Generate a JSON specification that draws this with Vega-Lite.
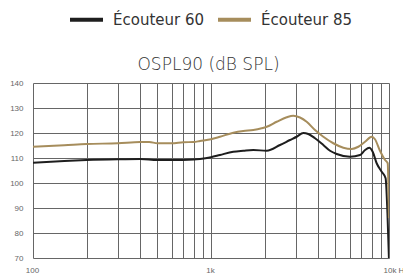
{
  "$schema": "https://vega.github.io/schema/vega-lite/v6.json",
  "width": 356,
  "height": 175,
  "autosize": "none",
  "padding": {"left": 33, "top": 83, "right": 14, "bottom": 20},
  "background": "white",
  "config": {
    "view": {"stroke": null},
    "axis": {"labelFont": "Liberation Sans", "labelFontSize": 8, "labelColor": "#666666"}
  },
  "data": {
    "values": [
      {"series": "Écouteur 60", "freq": 100, "db": 108.1},
      {"series": "Écouteur 60", "freq": 150, "db": 108.8},
      {"series": "Écouteur 60", "freq": 200, "db": 109.2},
      {"series": "Écouteur 60", "freq": 300, "db": 109.5},
      {"series": "Écouteur 60", "freq": 400, "db": 109.6},
      {"series": "Écouteur 60", "freq": 500, "db": 109.2},
      {"series": "Écouteur 60", "freq": 600, "db": 109.2},
      {"series": "Écouteur 60", "freq": 800, "db": 109.4},
      {"series": "Écouteur 60", "freq": 867, "db": 109.6},
      {"series": "Écouteur 60", "freq": 1000, "db": 110.3},
      {"series": "Écouteur 60", "freq": 1123, "db": 111.2},
      {"series": "Écouteur 60", "freq": 1334, "db": 112.5},
      {"series": "Écouteur 60", "freq": 1519, "db": 112.9},
      {"series": "Écouteur 60", "freq": 1729, "db": 113.2},
      {"series": "Écouteur 60", "freq": 2056, "db": 112.9},
      {"series": "Écouteur 60", "freq": 2442, "db": 115.2},
      {"series": "Écouteur 60", "freq": 2779, "db": 117.2},
      {"series": "Écouteur 60", "freq": 3029, "db": 118.5},
      {"series": "Écouteur 60", "freq": 3302, "db": 120.0},
      {"series": "Écouteur 60", "freq": 3521, "db": 119.6},
      {"series": "Écouteur 60", "freq": 3840, "db": 117.9},
      {"series": "Écouteur 60", "freq": 4276, "db": 115.2},
      {"series": "Écouteur 60", "freq": 4662, "db": 112.9},
      {"series": "Écouteur 60", "freq": 5082, "db": 111.6},
      {"series": "Écouteur 60", "freq": 6039, "db": 110.5},
      {"series": "Écouteur 60", "freq": 6877, "db": 111.2},
      {"series": "Écouteur 60", "freq": 7335, "db": 113.2},
      {"series": "Écouteur 60", "freq": 7749, "db": 114.1},
      {"series": "Écouteur 60", "freq": 8097, "db": 112.5},
      {"series": "Écouteur 60", "freq": 8525, "db": 107.9},
      {"series": "Écouteur 60", "freq": 9099, "db": 104.5},
      {"series": "Écouteur 60", "freq": 9570, "db": 101.9},
      {"series": "Écouteur 60", "freq": 9800, "db": 88},
      {"series": "Écouteur 60", "freq": 9990, "db": 70},
      {"series": "Écouteur 85", "freq": 100, "db": 114.5},
      {"series": "Écouteur 85", "freq": 150, "db": 115.1},
      {"series": "Écouteur 85", "freq": 200, "db": 115.6},
      {"series": "Écouteur 85", "freq": 300, "db": 115.9},
      {"series": "Écouteur 85", "freq": 400, "db": 116.4},
      {"series": "Écouteur 85", "freq": 450, "db": 116.4},
      {"series": "Écouteur 85", "freq": 500, "db": 115.9},
      {"series": "Écouteur 85", "freq": 600, "db": 115.9},
      {"series": "Écouteur 85", "freq": 700, "db": 116.3},
      {"series": "Écouteur 85", "freq": 800, "db": 116.4},
      {"series": "Écouteur 85", "freq": 867, "db": 116.8},
      {"series": "Écouteur 85", "freq": 1000, "db": 117.5},
      {"series": "Écouteur 85", "freq": 1123, "db": 118.5},
      {"series": "Écouteur 85", "freq": 1334, "db": 120.1},
      {"series": "Écouteur 85", "freq": 1519, "db": 120.8},
      {"series": "Écouteur 85", "freq": 1729, "db": 121.2},
      {"series": "Écouteur 85", "freq": 1926, "db": 121.9},
      {"series": "Écouteur 85", "freq": 2056, "db": 122.5},
      {"series": "Écouteur 85", "freq": 2339, "db": 124.5},
      {"series": "Écouteur 85", "freq": 2663, "db": 126.3},
      {"series": "Écouteur 85", "freq": 2900, "db": 126.9},
      {"series": "Écouteur 85", "freq": 3162, "db": 126.2},
      {"series": "Écouteur 85", "freq": 3447, "db": 124.5},
      {"series": "Écouteur 85", "freq": 3840, "db": 121.2},
      {"series": "Écouteur 85", "freq": 4276, "db": 118.5},
      {"series": "Écouteur 85", "freq": 4868, "db": 115.9},
      {"series": "Écouteur 85", "freq": 5538, "db": 114.1},
      {"series": "Écouteur 85", "freq": 6170, "db": 113.6},
      {"series": "Écouteur 85", "freq": 6725, "db": 114.5},
      {"series": "Écouteur 85", "freq": 7335, "db": 116.5},
      {"series": "Écouteur 85", "freq": 7993, "db": 118.5},
      {"series": "Écouteur 85", "freq": 8341, "db": 117.5},
      {"series": "Écouteur 85", "freq": 8897, "db": 112.9},
      {"series": "Écouteur 85", "freq": 9502, "db": 109.2},
      {"series": "Écouteur 85", "freq": 9833, "db": 107.9},
      {"series": "Écouteur 85", "freq": 9990, "db": 86}
    ]
  },
  "mark": {"type": "line", "strokeWidth": 2, "clip": true, "interpolate": "monotone"},
  "encoding": {
    "x": {
      "field": "freq",
      "type": "quantitative",
      "scale": {"type": "log", "domain": [100, 10000], "nice": false},
      "axis": {
        "title": "OSPL90 (dB SPL)",
        "titleFont": "DejaVu Sans",
        "titleFontSize": 17,
        "titleFontWeight": 300,
        "titleColor": "#333333",
        "titleX": 175,
        "titleY": -189,
        "titleAlign": "center",
        "titleBaseline": "alphabetic",
        "titleAngle": 0,
        "values": [100, 200, 300, 400, 500, 600, 700, 800, 900, 1000, 2000, 3000, 4000, 5000, 6000, 7000, 8000, 9000, 10000],
        "labelExpr": "datum.value == 100 ? '100' : datum.value == 1000 ? '1k' : datum.value == 10000 ? '10k Hz' : ''",
        "grid": true,
        "gridColor": "#666666",
        "gridOpacity": 1,
        "gridWidth": 1,
        "domain": false,
        "ticks": false,
        "labelPadding": 8,
        "labelBound": false,
        "labelFlush": false,
        "labelOverlap": false,
        "labelAlign": {"condition": {"test": "datum.value == 10000", "value": "left"}, "value": "center"},
        "labelOffset": {"condition": {"test": "datum.value == 10000", "value": -6}, "value": -1}
      }
    },
    "y": {
      "field": "db",
      "type": "quantitative",
      "scale": {"domain": [70, 140], "nice": false},
      "axis": {
        "title": null,
        "values": [70, 80, 90, 100, 110, 120, 130, 140],
        "grid": true,
        "gridColor": "#666666",
        "gridOpacity": 1,
        "gridWidth": 1,
        "domain": false,
        "ticks": false,
        "labelPadding": 10
      }
    },
    "color": {
      "field": "series",
      "type": "nominal",
      "scale": {"domain": ["Écouteur 60", "Écouteur 85"], "range": ["#1e1e1e", "#a68d5c"]},
      "legend": {
        "title": null,
        "orient": "none",
        "direction": "horizontal",
        "legendX": 35,
        "legendY": -82,
        "symbolType": "stroke",
        "symbolSize": 1089,
        "symbolStrokeWidth": 4,
        "labelFont": "DejaVu Sans",
        "labelFontSize": 15,
        "labelColor": "#333333",
        "labelOffset": 8,
        "columnPadding": 5,
        "padding": 0
      }
    }
  }
}
